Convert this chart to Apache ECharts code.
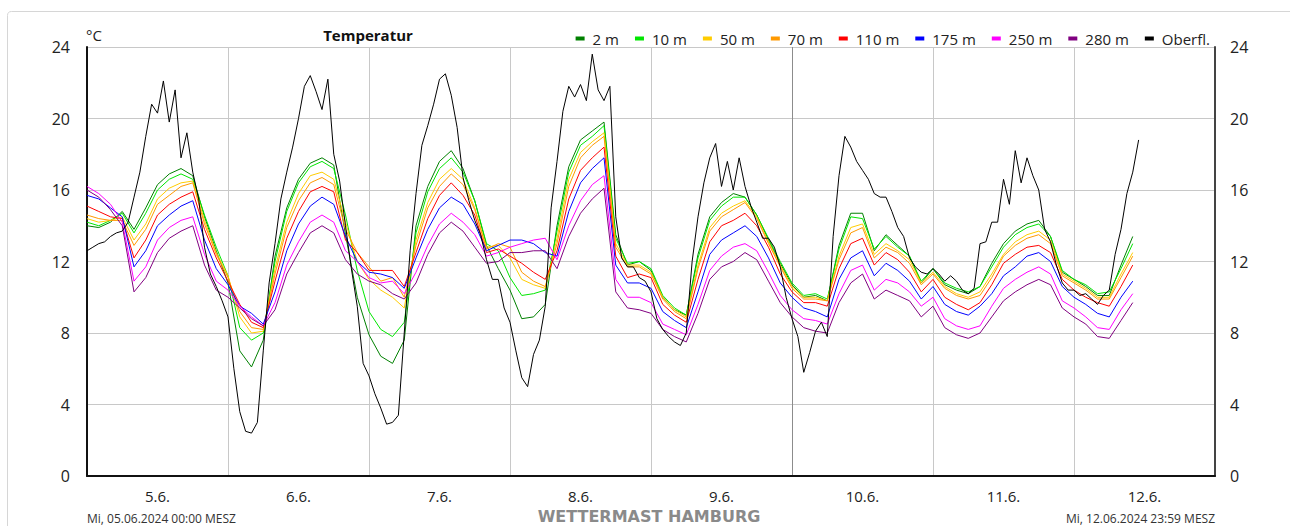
<!DOCTYPE html>
<html><head><meta charset="utf-8">
<script src="https://cdn.jsdelivr.net/npm/echarts@6/dist/echarts.min.js"></script>
<style>html,body{margin:0;padding:0;background:#fff}#c{width:1290px;height:526px}</style>
</head><body><div id="c"></div>
<script>
// ---- data ----
const dayLabels = ['5.6.', '6.6.', '7.6.', '8.6.', '9.6.', '10.6.', '11.6.', '12.6.'];
const seriesNames = ['2 m', '10 m', '50 m', '70 m', '110 m', '175 m', '250 m', '280 m', 'Oberfl.'];
const layerStepHours = 2;   // mast levels sampled every 2 h from 05.06. 00:00
const surfaceStepHours = 1; // surface sampled every 1 h

const t2m = [
  14.0, 13.9, 14.2, 14.8, 13.8, 15.0, 16.3, 16.9, 17.2, 16.8,
  14.5, 12.6, 10.8, 7.0, 6.1, 7.6, 12.3, 15.0, 16.6, 17.5,
  17.8, 17.4, 13.5, 10.0, 7.9, 6.7, 6.3, 7.6, 14.0, 16.2,
  17.6, 18.2, 17.2, 15.4, 12.9, 11.6, 10.4, 8.8, 8.9, 9.6,
  14.0, 17.3, 18.8, 19.3, 19.8, 13.5, 11.8, 12.0, 11.5, 10.0,
  9.3, 9.0, 12.4, 14.5, 15.3, 15.8, 15.6, 14.6, 13.2, 11.9,
  10.7, 10.0, 10.1, 9.8, 12.9, 14.7, 14.7, 12.6, 13.5, 12.9,
  12.3, 10.8, 11.6, 10.7, 10.4, 10.2, 10.6, 11.9, 13.0, 13.7,
  14.1, 14.3, 13.4, 11.4, 11.0, 10.6, 10.1, 10.1, 11.8, 13.4
];
const t10m = [
  14.2, 14.0, 14.3, 14.7, 13.6, 14.7, 16.0, 16.6, 16.9, 16.6,
  14.6, 12.8, 11.2, 8.3, 7.6, 8.0, 12.0, 14.8, 16.4, 17.3,
  17.6, 17.2, 14.6, 11.5, 9.2, 8.2, 7.8, 8.6, 13.6, 15.9,
  17.2, 17.8, 17.0, 15.4, 13.0, 12.6, 11.1, 10.1, 10.2, 10.4,
  13.7, 17.0, 18.5, 19.0, 19.6, 13.3, 11.9, 12.0, 11.6, 10.1,
  9.4, 9.0, 12.2, 14.3, 15.1, 15.6, 15.6, 14.6, 13.3, 12.0,
  10.8, 10.1, 10.2, 9.9, 12.7, 14.5, 14.4, 12.7, 13.4, 12.8,
  12.3, 10.9, 11.6, 10.8, 10.5, 10.3, 10.6, 11.7, 12.8, 13.5,
  13.9, 14.1, 13.4, 11.5, 11.0, 10.7, 10.2, 10.3, 11.6, 13.0
];
const t50m = [
  14.4, 14.2, 14.3, 14.5, 13.2, 14.1, 15.5, 16.1, 16.4, 16.5,
  14.3, 12.5, 11.2, 8.9, 8.0, 8.1, 11.6, 14.2, 15.8, 16.8,
  17.0, 16.6, 14.2, 12.0, 11.0, 10.4, 10.0, 9.4, 13.2, 15.3,
  16.6, 17.2, 16.6, 15.0, 12.8, 12.9, 12.2, 11.0, 10.7, 10.5,
  13.3, 16.6, 18.1, 18.7, 19.2, 13.0, 11.8, 11.8, 11.4, 10.0,
  9.3, 8.9, 11.8, 13.9, 14.7, 15.1, 15.4, 14.5, 13.1, 11.8,
  10.6, 10.0, 10.0, 9.8, 12.3, 13.9, 14.1, 12.4, 13.0, 12.6,
  12.1, 10.8, 11.4, 10.6, 10.2, 10.0, 10.3, 11.3, 12.4, 13.1,
  13.5, 13.7, 13.2, 11.3, 10.9, 10.5, 10.0, 10.0, 11.3, 12.5
];
const t70m = [
  14.6, 14.4, 14.3, 14.3, 12.9, 13.8, 15.2, 15.7, 16.2, 16.4,
  14.1, 12.4, 11.1, 9.2, 8.3, 8.2, 11.3, 13.9, 15.4, 16.4,
  16.7, 16.3, 13.8, 12.5, 11.7, 10.9, 11.1, 10.0, 12.9, 15.0,
  16.2, 16.9, 16.3, 14.9, 12.7, 13.0, 12.8, 11.4, 10.9, 10.6,
  13.0, 16.2, 17.8, 18.5, 19.0, 12.8, 11.7, 11.7, 11.3, 9.9,
  9.2, 8.8, 11.6, 13.7, 14.5, 14.9, 15.3, 14.4, 13.0, 11.7,
  10.5, 9.9, 9.9, 9.8, 12.1, 13.6, 13.9, 12.2, 12.8, 12.5,
  11.9, 10.7, 11.3, 10.5, 10.1, 9.9, 10.1, 11.1, 12.3, 12.9,
  13.3, 13.5, 13.0, 11.2, 10.8, 10.4, 9.9, 9.9, 11.1, 12.3
];
const t110m = [
  15.1, 14.8, 14.5, 14.4, 12.2, 13.2, 14.6, 15.2, 15.6, 15.9,
  13.8, 12.2, 10.9, 9.6, 8.6, 8.3, 10.9, 13.3, 14.8, 15.9,
  16.2, 15.9, 13.2, 12.5, 11.5, 11.5, 11.5, 10.6, 12.5, 14.4,
  15.7, 16.4, 15.7, 14.6, 12.5, 12.7, 12.3, 11.9, 11.4, 11.0,
  12.6, 15.5, 17.1, 17.8, 18.4, 12.3, 11.1, 11.3, 11.1, 9.6,
  9.0, 8.6, 11.0, 13.1, 14.0, 14.3, 14.7, 14.0, 12.8, 11.3,
  10.3, 9.7, 9.7, 9.5, 11.6, 13.0, 13.3, 11.8, 12.5, 12.1,
  11.4, 10.3, 11.0, 10.0, 9.6, 9.3, 9.7, 10.7, 11.9, 12.4,
  12.8, 12.9, 12.5, 11.0, 10.4, 10.0, 9.7, 9.5, 10.6, 11.8
];
const t175m = [
  15.7, 15.5, 15.0, 14.5, 11.7, 12.6, 14.0, 14.6, 15.1, 15.4,
  13.2, 11.6, 10.7, 9.5, 9.1, 8.5, 10.3, 12.6, 14.1, 15.1,
  15.6, 15.2, 13.4, 12.0, 11.4, 11.3, 11.1, 10.5, 12.2, 13.8,
  15.0, 15.6, 15.2, 14.1, 12.6, 12.9, 13.2, 13.2, 13.0, 12.5,
  12.3, 14.8, 16.4, 17.2, 17.8, 11.8, 10.8, 10.8, 10.5, 9.2,
  8.7, 8.3, 10.3, 12.4, 13.2, 13.6, 14.0, 13.4, 12.2, 10.8,
  10.0, 9.4, 9.2, 8.9, 11.0, 12.2, 12.6, 11.2, 11.9, 11.5,
  10.9, 9.9, 10.6, 9.6, 9.2, 9.0, 9.5, 10.2, 11.2, 11.7,
  12.3, 12.5, 12.0, 10.6, 10.0, 9.6, 9.1, 8.9, 10.0, 10.9
];
const t250m = [
  16.2, 15.8, 15.2, 14.2, 10.9, 11.7, 13.2, 13.9, 14.3, 14.5,
  12.4, 10.9, 10.4, 9.5, 8.9, 8.4, 9.7, 11.8, 13.1, 14.2,
  14.6, 14.2, 12.6, 12.0, 11.1, 10.8, 10.9, 10.2, 11.4, 12.9,
  14.1, 14.7, 14.2, 13.5, 12.3, 12.5, 12.8, 13.0, 13.2, 13.3,
  12.1, 14.0, 15.4, 16.3, 16.8, 11.0, 10.0, 10.0, 9.7, 8.5,
  8.2, 7.9, 9.6, 11.5, 12.3, 12.8, 13.0, 12.6, 11.4, 10.1,
  9.3, 8.8, 8.7, 8.5, 10.2, 11.5, 11.8, 10.4, 11.0, 10.8,
  10.3, 9.5, 10.0, 8.8, 8.4, 8.2, 8.4, 9.5, 10.5, 11.0,
  11.4, 11.7, 11.3, 9.8, 9.4, 8.9, 8.3, 8.2, 9.3, 10.2
];
const t280m = [
  16.0, 15.6, 14.9, 14.0, 10.3, 11.1, 12.5, 13.3, 13.7, 14.0,
  11.8, 10.4, 10.0, 9.4, 8.8, 8.4, 9.3, 11.3, 12.5, 13.6,
  14.0, 13.6, 12.1, 11.3, 10.9, 10.7, 10.2, 9.9, 10.8, 12.4,
  13.6, 14.2, 13.7, 12.8, 11.9, 12.0, 12.5, 12.5, 12.6, 12.6,
  11.6, 13.4, 14.7, 15.5, 16.1, 10.3, 9.4, 9.3, 9.1, 8.2,
  7.8, 7.5, 9.1, 11.0, 11.7, 12.0, 12.5, 12.1, 10.9, 9.7,
  8.9, 8.3, 8.1, 8.0, 9.7, 10.8, 11.3, 9.9, 10.4, 10.1,
  9.8, 8.9, 9.5, 8.3, 7.9, 7.7, 8.0, 8.9, 9.8, 10.3,
  10.7, 11.0, 10.7, 9.4, 8.9, 8.5, 7.8, 7.7, 8.7, 9.7
];
const tSurface = [
  12.6, 12.8, 13.0, 13.1, 13.4, 13.6, 13.7, 14.2, 15.6, 17.0,
  19.0, 20.8, 20.3, 22.1, 19.8, 21.6, 17.8, 19.2, 17.0, 15.5,
  12.8, 11.3, 10.6, 9.8, 8.9, 6.0, 3.6, 2.5, 2.4, 3.0,
  7.0, 10.8, 13.0, 15.5, 17.0, 18.4, 20.0, 21.8, 22.4, 21.5,
  20.5, 22.2, 18.0, 16.5, 14.0, 11.6, 9.5, 6.3, 5.6, 4.6,
  3.8, 2.9, 3.0, 3.4, 8.0, 12.6, 15.8, 18.5, 19.6, 20.8,
  22.2, 22.5, 21.3, 19.5, 16.7, 15.4, 14.3, 13.5, 12.1, 11.0,
  11.0, 9.4, 8.6, 7.0, 5.5, 5.0, 6.8, 7.6, 9.5, 15.0,
  17.6, 20.4, 21.8, 21.2, 21.9, 21.0, 23.6, 21.6, 21.0, 21.8,
  14.5, 12.2, 11.7, 11.7, 11.1, 10.9, 10.3, 8.8, 8.2, 7.8,
  7.5, 7.3, 8.0, 12.0, 14.5, 16.4, 17.8, 18.6, 16.2, 17.6,
  16.0, 17.8, 16.2, 15.1, 14.2, 13.3, 13.3, 12.8, 11.7, 10.0,
  8.8, 7.8, 5.8, 6.9, 8.1, 8.6, 7.8, 13.4, 16.8, 19.0,
  18.4, 17.6, 17.1, 16.6, 15.8, 15.6, 15.6, 14.8, 13.9, 13.4,
  12.2, 11.7, 11.4, 11.3, 11.6, 11.3, 10.9, 11.2, 10.9, 10.4,
  10.2, 10.5, 13.0, 13.1, 14.2, 14.2, 16.6, 15.2, 18.2, 16.4,
  17.8, 16.8, 16.0, 13.8, 13.1, 11.8, 10.8, 10.4, 10.4, 10.1,
  10.2, 9.9, 9.6, 10.1, 10.4, 12.4, 13.8, 15.8, 17.0, 18.8
];

// ---- styling ----
const FONT = "'Open Sans', 'DejaVu Sans', sans-serif";
const TXT = '#222';
const colors = ['#008000', '#00e600', '#ffcc00', '#ff9900', '#ff0000', '#0000ff', '#ff00ff', '#800080', '#000000'];
const layerData = [t2m, t10m, t50m, t70m, t110m, t175m, t250m, t280m];

const series = layerData.map((arr, k) => ({
  name: seriesNames[k], type: 'line', xAxisIndex: 0, yAxisIndex: 0,
  showSymbol: false, symbol: 'none', animation: false,
  lineStyle: { width: 1, color: colors[k] }, itemStyle: { color: colors[k] },
  data: arr.map((v, i) => [i * layerStepHours, v])
}));
series.push({
  name: seriesNames[8], type: 'line', xAxisIndex: 0, yAxisIndex: 0,
  showSymbol: false, symbol: 'none', animation: false,
  lineStyle: { width: 1, color: colors[8] }, itemStyle: { color: colors[8] },
  data: tSurface.map((v, i) => [i * surfaceStepHours, v])
});

const gridLight = '#c8c8c8';
const gridDark = '#8c8c8c';
const chart = echarts.init(document.getElementById('c'), null, { renderer: 'svg' });
chart.setOption({
  animation: false,
  backgroundColor: '#fff',
  grid: { left: 87, right: 75, top: 47, bottom: 50, containLabel: false },
  legend: {
    data: seriesNames, top: 26, right: 75, icon: 'rect',
    itemWidth: 9, itemHeight: 4, itemGap: 16,
    textStyle: { fontSize: 15, color: TXT, fontFamily: FONT, padding: [0, 0, 0, 3] }
  },
  xAxis: [
    {
      type: 'value', min: 0, max: 192, interval: 24,
      axisLine: { show: true, onZero: false, lineStyle: { color: '#111', width: 2 } },
      axisTick: { show: false }, axisLabel: { show: false },
      splitLine: { show: true, lineStyle: { width: 1, color: [gridLight, gridLight, gridLight, gridLight, gridLight, gridDark, gridLight, gridLight, gridLight] } }
    },
    {
      type: 'category', data: dayLabels, position: 'bottom', boundaryGap: true,
      axisLine: { show: false }, axisTick: { show: false }, splitLine: { show: false },
      axisLabel: { interval: 0, margin: 11, fontSize: 15, lineHeight: 17, color: TXT, fontFamily: FONT }
    }
  ],
  yAxis: [
    {
      type: 'value', min: 0, max: 24, interval: 4, position: 'left',
      axisLine: { show: true, onZero: false, lineStyle: { color: '#111', width: 2 } },
      axisTick: { show: false },
      axisLabel: { margin: 17, fontSize: 16, color: TXT, fontFamily: FONT },
      splitLine: { show: true, lineStyle: { color: gridLight, width: 1 } }
    },
    {
      type: 'value', min: 0, max: 24, interval: 4, position: 'right',
      axisLine: { show: true, onZero: false, lineStyle: { color: '#444', width: 2 } },
      axisTick: { show: false },
      axisLabel: { margin: 15, fontSize: 16, color: TXT, fontFamily: FONT },
      splitLine: { show: false }
    }
  ],
  graphic: [
    { type: 'rect', silent: true, z: -10, shape: { x: 7.5, y: 11.5, width: 1400, height: 700, r: 4 },
      style: { fill: 'none', stroke: '#d6d6d6', lineWidth: 1 } },
    { type: 'text', silent: true, style: { text: '°C', x: 86, y: 35, textVerticalAlign: 'middle', fill: TXT, font: '15px ' + FONT } },
    { type: 'text', silent: true, style: { text: 'Temperatur', x: 368, y: 35, textAlign: 'center', textVerticalAlign: 'middle', fill: '#111', font: 'bold 15px ' + FONT } },
    { type: 'text', silent: true, style: { text: 'Mi, 05.06.2024 00:00 MESZ', x: 87, y: 518, textVerticalAlign: 'middle', fill: '#333', font: '12px ' + FONT } },
    { type: 'text', silent: true, style: { text: 'WETTERMAST HAMBURG', x: 649, y: 516, textAlign: 'center', textVerticalAlign: 'middle', fill: '#8a8a8a', font: "bold 16px 'DejaVu Sans', sans-serif" } },
    { type: 'text', silent: true, style: { text: 'Mi, 12.06.2024 23:59 MESZ', x: 1215, y: 518, textAlign: 'right', textVerticalAlign: 'middle', fill: '#333', font: '12px ' + FONT } }
  ],
  series: series
});
</script>
</body></html>
